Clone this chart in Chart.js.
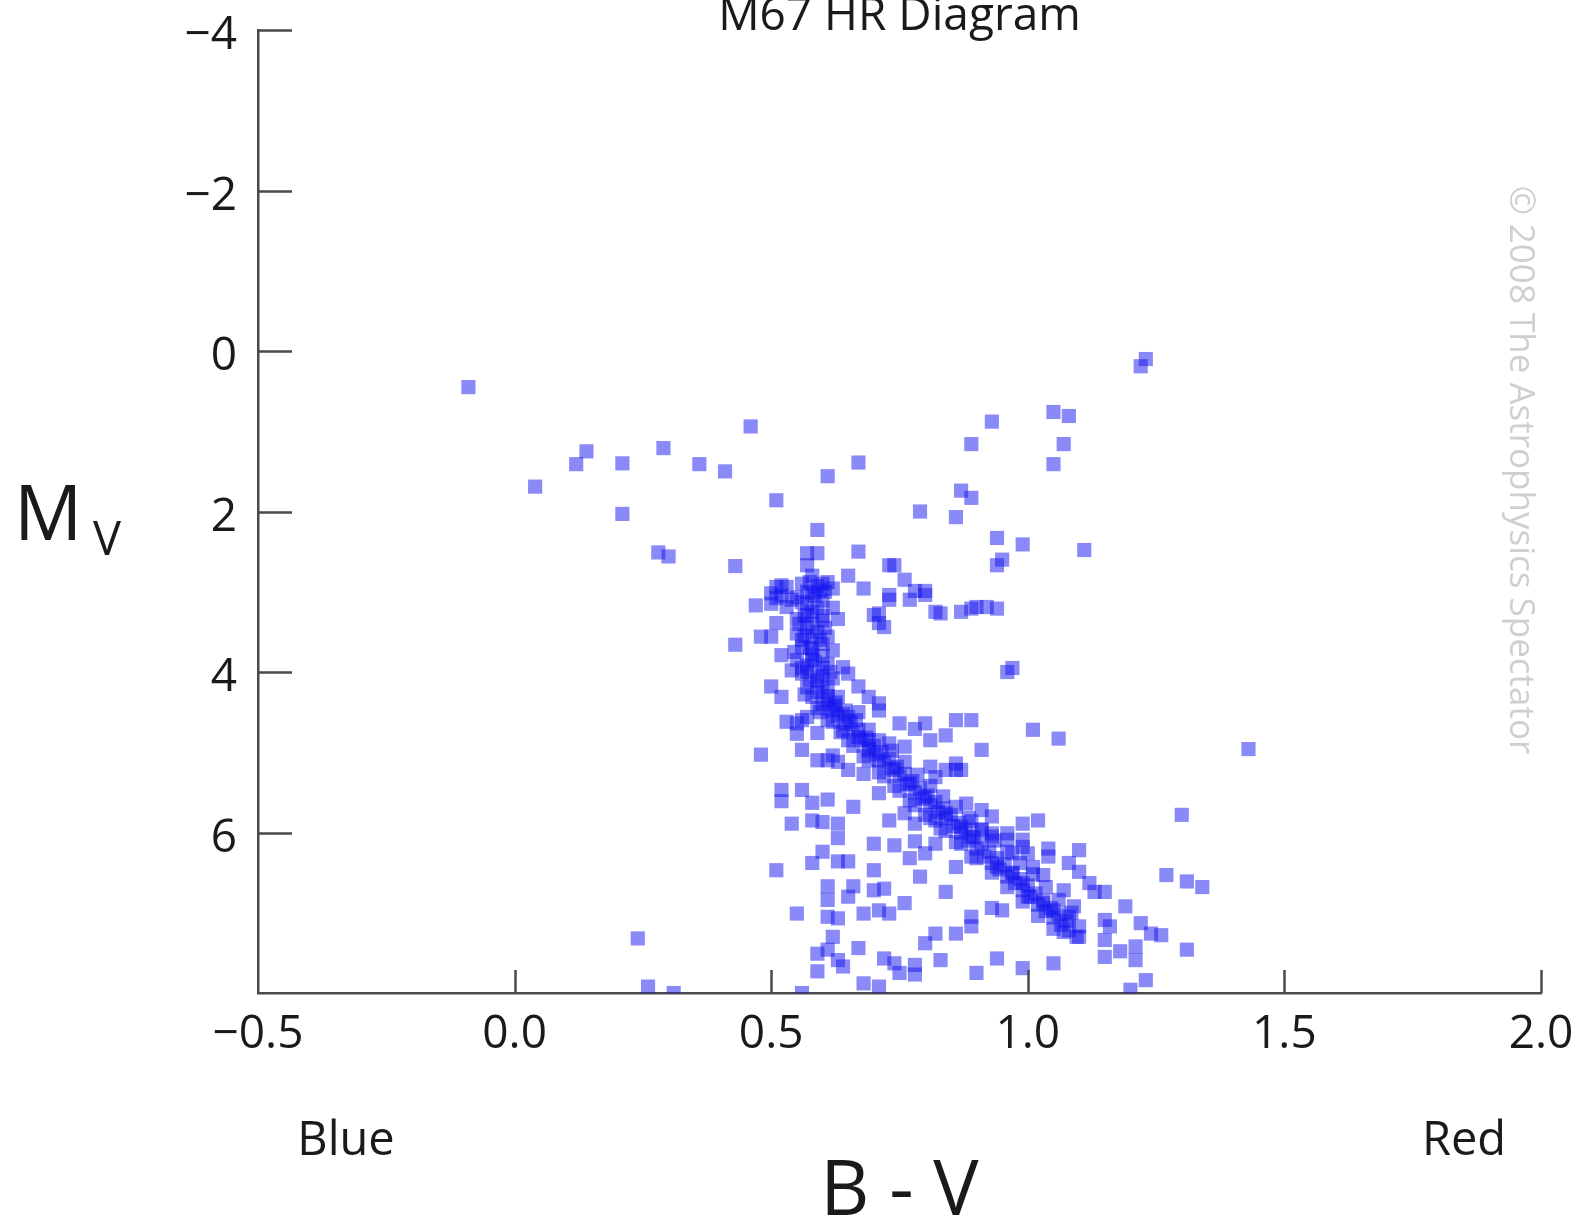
<!DOCTYPE html>
<html>
<head>
<meta charset="utf-8">
<title>M67 HR Diagram</title>
<script src="https://cdn.jsdelivr.net/npm/chart.js@4.4.1/dist/chart.umd.min.js"></script>
<style>
  html, body { margin: 0; padding: 0; background: #fff; }
  #hr-chart { display: block; }
</style>
</head>
<body>
<canvas id="hr-chart" width="1585" height="1223"></canvas>
<script>
const chartTitle = 'M67 HR Diagram';
const xTicks = [-0.5, 0, 0.5, 1.0, 1.5, 2.0];
const yTicks = [-4, -2, 0, 2, 4, 6];

// [B-V, Mv]
const scatteredStars = [
  [-0.09, 0.45], [1.23, 0.10], [1.22, 0.19], [0.46, 0.94], [0.93, 0.88], [1.05, 0.76], [1.08, 0.81],
  [0.89, 1.16], [1.07, 1.16], [1.05, 1.41], [0.14, 1.25], [0.12, 1.41], [0.21, 1.40], [0.29, 1.21],
  [0.36, 1.41], [0.41, 1.50], [0.61, 1.56], [0.67, 1.39], [0.04, 1.69], [0.21, 2.03], [0.51, 1.86],
  [0.79, 2.00], [0.87, 1.74], [0.89, 1.83], [0.86, 2.07], [0.94, 2.33], [0.99, 2.41], [1.11, 2.48],
  [0.95, 2.60], [0.94, 2.67], [0.28, 2.51], [0.30, 2.56], [0.43, 2.68], [1.43, 4.96], [0.24, 7.32],
  [1.31, 7.46], [0.26, 7.92], [0.31, 8.00], [1.30, 5.78], [1.27, 6.53], [1.31, 6.61], [1.34, 6.68]
];

const turnoffStars = [
  [0.59, 2.23], [0.67, 2.50], [0.57, 2.52], [0.59, 2.52], [0.73, 2.67], [0.74, 2.67], [0.76, 2.85],
  [0.78, 2.99], [0.80, 2.99], [0.73, 3.04], [0.70, 3.29], [0.71, 3.39], [0.83, 3.27], [0.87, 3.25],
  [0.90, 3.19], [0.92, 3.19], [0.94, 3.21], [0.47, 3.17], [0.51, 2.94], [0.53, 2.94], [0.43, 3.66],
  [0.48, 3.56], [0.51, 3.39], [0.52, 3.79], [0.50, 4.18], [0.52, 4.31], [0.97, 3.95], [0.96, 4.00],
  [0.67, 4.18], [0.69, 4.31], [0.68, 2.96], [0.73, 3.10], [0.77, 3.10], [0.80, 3.04], [0.89, 3.21],
  [0.72, 3.44], [0.57, 2.67], [0.58, 2.80], [0.65, 2.80], [0.52, 2.92], [0.56, 2.90], [0.60, 2.90],
  [0.62, 2.96], [0.58, 3.02], [0.55, 3.07], [0.50, 3.02], [0.50, 3.15], [0.53, 3.19], [0.57, 3.15],
  [0.60, 3.11], [0.82, 3.25], [0.71, 3.27], [0.55, 3.34], [0.57, 3.29], [0.60, 3.36], [0.63, 3.34],
  [0.50, 3.56], [0.55, 3.52], [0.58, 3.56], [0.61, 3.56], [0.56, 3.69], [0.58, 3.71], [0.62, 3.73],
  [0.55, 3.85], [0.58, 3.85], [0.61, 3.90], [0.64, 3.94], [0.65, 4.02], [0.54, 3.98], [0.56, 4.02],
  [0.59, 4.06], [0.62, 4.08], [0.57, 4.19], [0.60, 4.23], [0.58, 4.31], [0.61, 4.35], [0.71, 4.39],
  [0.63, 4.31], [0.57, 3.45], [0.59, 3.50], [0.56, 3.60], [0.60, 3.65], [0.58, 3.78], [0.60, 3.95],
  [0.57, 3.92], [0.59, 4.12], [0.61, 4.18], [0.58, 3.25], [0.60, 3.30], [0.585, 3.05], [0.605, 3.00],
  [0.57, 3.00], [0.59, 2.93], [0.575, 2.88], [0.61, 2.88], [0.595, 2.98], [0.58, 3.40], [0.595, 3.60],
  [0.585, 3.88], [0.60, 4.05], [0.59, 4.25], [0.56, 3.95], [0.575, 4.10], [0.52, 3.05], [0.54, 3.10],
  [0.56, 3.13], [0.51, 3.08], [0.565, 3.30], [0.545, 3.75], [0.565, 4.28], [0.62, 3.20],
  [0.565, 3.55], [0.575, 3.70], [0.605, 3.45], [0.555, 3.40], [0.59, 3.20], [0.615, 4.00], [0.57, 4.00],
  [0.60, 3.80]
];

const mainSequenceStars = [
  [0.48, 5.03], [0.53, 4.62], [0.56, 4.60], [0.56, 4.97], [0.59, 5.10], [0.61, 5.10], [0.59, 4.76],
  [0.65, 5.22], [0.75, 4.64], [0.80, 4.64], [0.86, 4.60], [0.89, 4.60], [1.01, 4.72], [1.06, 4.83],
  [0.91, 4.97], [0.86, 5.22], [0.52, 5.47], [0.56, 5.47], [0.52, 5.61], [0.58, 5.63], [0.61, 5.59],
  [0.66, 5.68], [0.62, 4.48], [0.65, 4.56], [0.67, 4.50], [0.71, 4.48], [0.55, 4.64], [0.57, 4.56],
  [0.55, 4.77], [0.64, 4.73], [0.67, 4.81], [0.78, 4.71], [0.69, 4.85], [0.73, 4.89], [0.76, 4.93],
  [0.81, 4.85], [0.84, 4.79], [0.62, 5.04], [0.63, 5.12], [0.68, 5.27], [0.69, 4.98], [0.71, 5.10],
  [0.74, 5.22], [0.77, 5.39], [0.80, 5.56], [0.84, 5.76], [0.87, 5.93], [0.89, 6.05], [0.81, 5.18],
  [0.84, 5.22], [0.87, 5.22], [0.86, 5.14], [0.82, 5.31], [0.71, 5.51], [0.73, 5.85], [0.76, 5.76],
  [0.78, 5.89], [0.82, 5.85], [0.88, 5.64], [0.91, 5.72], [0.93, 5.80], [0.54, 5.89], [0.58, 5.85],
  [0.63, 5.89]
];

const fieldStars = [
  [0.60, 5.87], [0.63, 6.07], [0.70, 6.14], [0.74, 6.16], [0.78, 6.11], [0.82, 6.14], [0.99, 5.89],
  [0.91, 5.97], [0.51, 6.47], [0.58, 6.38], [0.60, 6.24], [0.63, 6.36], [0.65, 6.36], [0.70, 6.47],
  [0.77, 6.32], [0.80, 6.26], [0.86, 6.43], [0.79, 6.55], [0.84, 6.74], [0.61, 6.67], [0.61, 6.84],
  [0.66, 6.67], [0.65, 6.80], [0.70, 6.72], [0.72, 6.70], [0.55, 7.01], [0.61, 7.05], [0.63, 7.07],
  [0.68, 7.01], [0.71, 6.97], [0.73, 7.01], [0.76, 6.88], [0.89, 7.05], [0.89, 7.17], [0.93, 6.94],
  [0.95, 6.97], [0.62, 7.30], [0.59, 7.51], [0.61, 7.46], [0.67, 7.44], [0.63, 7.59], [0.59, 7.73],
  [0.64, 7.67], [0.72, 7.57], [0.74, 7.63], [0.75, 7.75], [0.78, 7.65], [0.78, 7.77], [0.80, 7.38],
  [0.82, 7.26], [0.86, 7.26], [0.83, 7.59], [0.68, 7.88], [0.71, 7.92], [0.56, 8.00], [0.90, 7.75],
  [0.94, 7.57], [0.99, 7.69], [0.89, 5.86], [0.93, 6.01], [0.96, 6.01], [0.99, 6.09], [1.00, 6.26],
  [0.97, 6.26], [1.01, 6.43], [1.02, 5.85], [0.93, 6.05], [0.96, 6.09], [0.99, 6.18], [1.04, 6.20],
  [1.04, 6.30], [1.10, 6.22], [1.08, 6.38], [1.10, 6.49], [1.12, 6.63], [1.13, 6.74], [1.15, 6.74],
  [1.19, 6.92], [0.94, 6.43], [0.97, 6.51], [0.99, 6.63], [1.03, 6.53], [1.00, 6.80], [1.03, 6.88],
  [1.05, 6.97], [1.07, 6.72], [1.08, 7.05], [1.09, 6.92], [1.10, 7.17], [1.10, 7.30], [1.07, 7.24],
  [1.15, 7.09], [1.15, 7.34], [1.16, 7.17], [1.15, 7.55], [1.18, 7.48], [1.21, 7.42], [1.21, 7.59],
  [1.22, 7.13], [1.24, 7.26], [1.26, 7.28], [1.05, 7.63], [1.23, 7.84], [1.20, 7.96]
];

// the dark ridge of the main sequence
const ridgeStars = [
  [0.60, 4.40], [0.615, 4.45], [0.63, 4.55], [0.645, 4.65], [0.66, 4.75], [0.675, 4.85], [0.69, 4.95],
  [0.705, 5.03], [0.72, 5.12], [0.735, 5.20], [0.75, 5.30], [0.765, 5.40], [0.78, 5.50], [0.795, 5.58],
  [0.81, 5.66], [0.825, 5.74], [0.84, 5.82], [0.855, 5.92], [0.87, 6.00], [0.885, 6.10], [0.90, 6.20],
  [0.915, 6.30], [0.93, 6.38], [0.945, 6.46], [0.96, 6.55], [0.975, 6.63], [0.99, 6.72], [1.005, 6.80],
  [1.02, 6.90], [1.035, 6.98], [1.05, 7.06], [1.065, 7.15], [1.08, 7.22], [1.095, 7.30],
  [0.61, 4.30], [0.625, 4.42], [0.64, 4.52], [0.655, 4.62], [0.67, 4.72], [0.685, 4.82], [0.70, 4.92],
  [0.715, 5.00], [0.73, 5.08], [0.745, 5.18], [0.76, 5.27], [0.775, 5.36], [0.79, 5.45], [0.805, 5.54],
  [0.82, 5.62], [0.835, 5.70], [0.85, 5.78], [0.865, 5.88], [0.88, 5.96], [0.895, 6.06], [0.91, 6.14],
  [0.925, 6.24], [0.94, 6.32], [0.955, 6.40], [0.97, 6.50], [0.985, 6.58], [1.00, 6.66], [1.015, 6.76],
  [1.03, 6.85], [1.045, 6.94], [1.06, 7.02], [1.075, 7.10],
  [0.595, 4.50], [0.62, 4.62], [0.65, 4.85], [0.68, 5.05], [0.71, 5.25], [0.74, 5.42], [0.77, 5.60],
  [0.80, 5.78], [0.83, 5.95], [0.86, 6.12], [0.89, 6.30],
  [0.625, 4.38], [0.645, 4.48], [0.665, 4.60], [0.69, 4.72], [0.71, 4.85], [0.735, 4.98], [0.76, 5.12],
  [0.785, 5.28], [0.81, 5.42], [0.835, 5.55], [0.86, 5.68], [0.885, 5.82], [0.91, 5.96], [0.935, 6.10],
  [0.96, 6.24], [0.985, 6.38], [1.01, 6.52], [1.035, 6.68], [1.06, 6.84], [1.085, 7.00],
  [0.59, 4.45], [0.61, 4.60], [0.635, 4.75], [0.66, 4.92], [0.69, 5.10], [0.72, 5.30], [0.75, 5.48],
  [0.78, 5.66], [0.81, 5.82], [0.84, 5.98], [0.87, 6.14], [0.90, 6.32], [0.93, 6.50], [0.96, 6.68],
  [0.99, 6.86], [1.02, 7.04], [1.05, 7.20]
];

const fontFamily = "'Open Sans', 'DejaVu Sans', sans-serif";
const inkColor = '#1a1a1a';
const axisColor = '#4a4a4a';

Chart.defaults.font.family = fontFamily;

function minusSign(text) {
  return String(text).replace('-', '\u2212');
}

const allStars = [...scatteredStars, ...turnoffStars, ...mainSequenceStars, ...fieldStars, ...ridgeStars]
  .map(([bv, mv]) => ({ x: bv, y: mv }));

// extra bits: inner tick marks, title, axis names, watermark
const hrDecor = {
  id: 'hrDecor',
  afterDraw(chart) {
    const { ctx } = chart;
    const x = chart.scales.x;
    const y = chart.scales.y;
    ctx.save();

    ctx.strokeStyle = axisColor;
    ctx.lineWidth = 2.5;
    ctx.beginPath();
    xTicks.filter(v => v > x.min).forEach(v => {
      const px = Math.round(x.getPixelForValue(v)) + 0.5;
      ctx.moveTo(px, y.bottom);
      ctx.lineTo(px, y.bottom - 23);
    });
    yTicks.forEach(v => {
      const py = Math.round(y.getPixelForValue(v)) + 0.5;
      ctx.moveTo(x.left, py);
      ctx.lineTo(x.left + 34, py);
    });
    ctx.stroke();

    ctx.fillStyle = inkColor;
    ctx.textBaseline = 'alphabetic';
    ctx.textAlign = 'center';
    ctx.font = `46px ${fontFamily}`;
    ctx.fillText(chartTitle, (x.left + x.right) / 2, 30);

    ctx.font = `47px ${fontFamily}`;
    ctx.fillText('Blue', 346, 1155);
    ctx.fillText('Red', 1464, 1155);

    ctx.font = `76px ${fontFamily}`;
    ctx.fillText('B - V', (x.left + x.right) / 2, 1215);

    ctx.textAlign = 'left';
    ctx.fillText('M', 14, 540);
    ctx.font = `47px ${fontFamily}`;
    ctx.fillText('V', 93, 555);

    ctx.fillStyle = '#cfcfcf';
    ctx.font = `35px ${fontFamily}`;
    ctx.textAlign = 'center';
    ctx.textBaseline = 'middle';
    ctx.translate(1520, 470);
    ctx.rotate(Math.PI / 2);
    ctx.fillText('\u00a9 2008 The Astrophysics Spectator', 0, 0);

    ctx.restore();
  }
};

new Chart(document.getElementById('hr-chart'), {
  type: 'scatter',
  data: {
    datasets: [{
      data: allStars,
      pointStyle: 'rect',
      pointRadius: 10,
      pointHoverRadius: 10,
      backgroundColor: 'rgba(20, 20, 240, 0.5)',
      borderWidth: 0
    }]
  },
  options: {
    responsive: false,
    animation: false,
    devicePixelRatio: 1,
    layout: { padding: { top: 30, right: 44, bottom: 0, left: 0 } },
    plugins: {
      legend: { display: false },
      tooltip: { enabled: false }
    },
    scales: {
      x: {
        type: 'linear',
        min: -0.5,
        max: 2.0,
        afterBuildTicks: scale => { scale.ticks = xTicks.map(v => ({ value: v })); },
        afterFit: scale => {
          scale.height = 230;
          scale.paddingLeft = 0;
          scale.paddingRight = 0;
        },
        grid: { display: false, drawTicks: false },
        border: { display: true, color: axisColor, width: 2.5 },
        ticks: {
          padding: 14,
          color: inkColor,
          font: { size: 46 },
          maxRotation: 0,
          autoSkip: false,
          callback: v => minusSign(Number(v).toFixed(1))
        }
      },
      y: {
        type: 'linear',
        reverse: true,
        min: -4,
        max: 8,
        afterBuildTicks: scale => { scale.ticks = yTicks.map(v => ({ value: v })); },
        afterFit: scale => {
          scale.width = 258;
          scale.paddingTop = 0;
          scale.paddingBottom = 0;
        },
        grid: { display: false, drawTicks: false },
        border: { display: true, color: axisColor, width: 2.5 },
        ticks: {
          padding: 21,
          labelOffset: 6,
          color: inkColor,
          font: { size: 46 },
          autoSkip: false,
          callback: v => minusSign(v)
        }
      }
    }
  },
  plugins: [hrDecor]
});
</script>
</body>
</html>
